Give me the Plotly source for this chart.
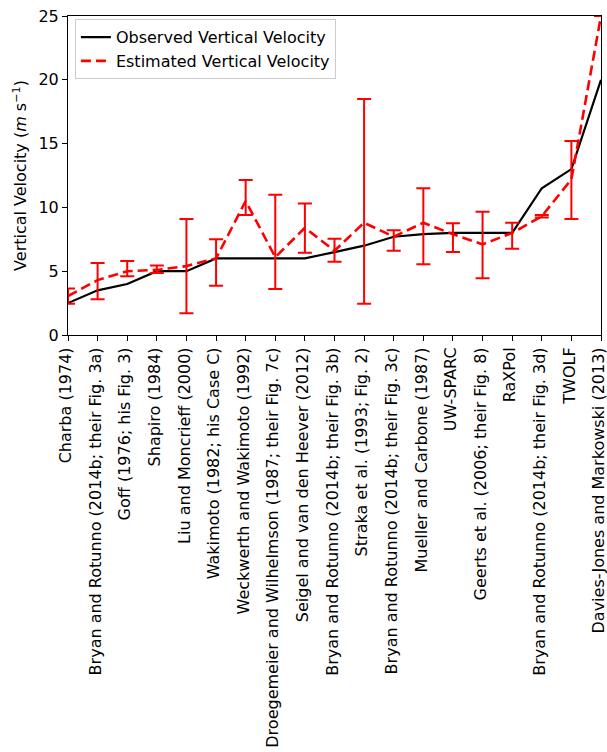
import plotly.graph_objects as go

categories = [
    "Charba (1974)",
    "Bryan and Rotunno (2014b; their Fig. 3a)",
    "Goff (1976; his Fig. 3)",
    "Shapiro (1984)",
    "Liu and Moncrieff (2000)",
    "Wakimoto (1982; his Case C)",
    "Weckwerth and Wakimoto (1992)",
    "Droegemeier and Wilhelmson (1987; their Fig. 7c)",
    "Seigel and van den Heever (2012)",
    "Bryan and Rotunno (2014b; their Fig. 3b)",
    "Straka et al. (1993; Fig. 2)",
    "Bryan and Rotunno (2014b; their Fig. 3c)",
    "Mueller and Carbone (1987)",
    "UW-SPARC",
    "Geerts et al. (2006; their Fig. 8)",
    "RaXPol",
    "Bryan and Rotunno (2014b; their Fig. 3d)",
    "TWOLF",
    "Davies-Jones and Markowski (2013)",
]

observed = [2.5, 3.5, 4.0, 5.0, 5.0, 6.0, 6.0, 6.0, 6.0, 6.5, 7.0, 7.7, 7.9, 8.0, 8.0, 8.0, 11.5, 13.0, 20.0]
estimated = [3.05, 4.3, 5.0, 5.1, 5.4, 6.0, 10.5, 6.1, 8.4, 6.6, 8.8, 7.7, 8.8, 7.9, 7.1, 8.0, 9.3, 12.2, 25.0]
err_plus = [0.6, 1.35, 0.8, 0.35, 3.7, 1.5, 1.65, 4.9, 1.9, 0.95, 9.7, 0.5, 2.7, 0.85, 2.55, 0.8, 0.1, 3.0, 0.0]
err_minus = [0.6, 1.5, 0.4, 0.25, 3.7, 2.15, 1.1, 2.5, 1.95, 0.85, 6.35, 1.1, 3.25, 1.4, 2.65, 1.25, 0.1, 3.1, 0.0]

y_ticks = [0, 5, 10, 15, 20, 25]

FONT = "DejaVu Sans"

fig = go.Figure()
fig.add_trace(go.Scatter(
    x=categories, y=observed, mode="lines",
    name="Observed Vertical Velocity",
    line=dict(color="black", width=2.2),
))
fig.add_trace(go.Scatter(
    x=categories, y=estimated, mode="lines",
    name="Estimated Vertical Velocity",
    line=dict(color="#ff0000", width=2.6, dash="10px,5px"),
    error_y=dict(type="data", symmetric=False, array=err_plus, arrayminus=err_minus,
                 color="#ff0000", thickness=2, width=7),
))

fig.update_layout(
    width=607, height=752,
    margin=dict(l=68, r=6, t=16, b=417),
    paper_bgcolor="white", plot_bgcolor="white",
    font=dict(family=FONT, size=16, color="black"),
    showlegend=True,
    legend=dict(
        x=0.013, y=0.99, xanchor="left", yanchor="top",
        bgcolor="rgba(255,255,255,0.9)", bordercolor="#cccccc", borderwidth=1,
        font=dict(family=FONT, size=16, color="black"),
        tracegroupgap=0,
    ),
    xaxis=dict(
        type="category", range=[0, 18], automargin=False,
        showgrid=False, zeroline=False,
        showline=True, linecolor="black", linewidth=1, mirror=True,
        ticks="outside", ticklen=5, tickwidth=1, tickcolor="black",
        tickangle=-90, ticklabelshift=-2,
        tickfont=dict(family=FONT, size=16, color="black"),
    ),
    yaxis=dict(
        range=[0, 25], tickvals=y_ticks, automargin=False,
        showgrid=False, zeroline=False,
        showline=True, linecolor="black", linewidth=1, mirror=True,
        ticks="outside", ticklen=5, tickwidth=1, tickcolor="black",
        tickfont=dict(family=FONT, size=16, color="black"),
        title=dict(text="Vertical Velocity (<i>m</i> s<sup>\u22121</sup>)",
                   font=dict(family=FONT, size=16, color="black"), standoff=7),
    ),
)

fig.write_html(
    "out.html",
    config={"displayModeBar": False},
    post_script="document.body.style.margin='0';document.body.style.padding='0';document.body.style.overflow='hidden';",
)
